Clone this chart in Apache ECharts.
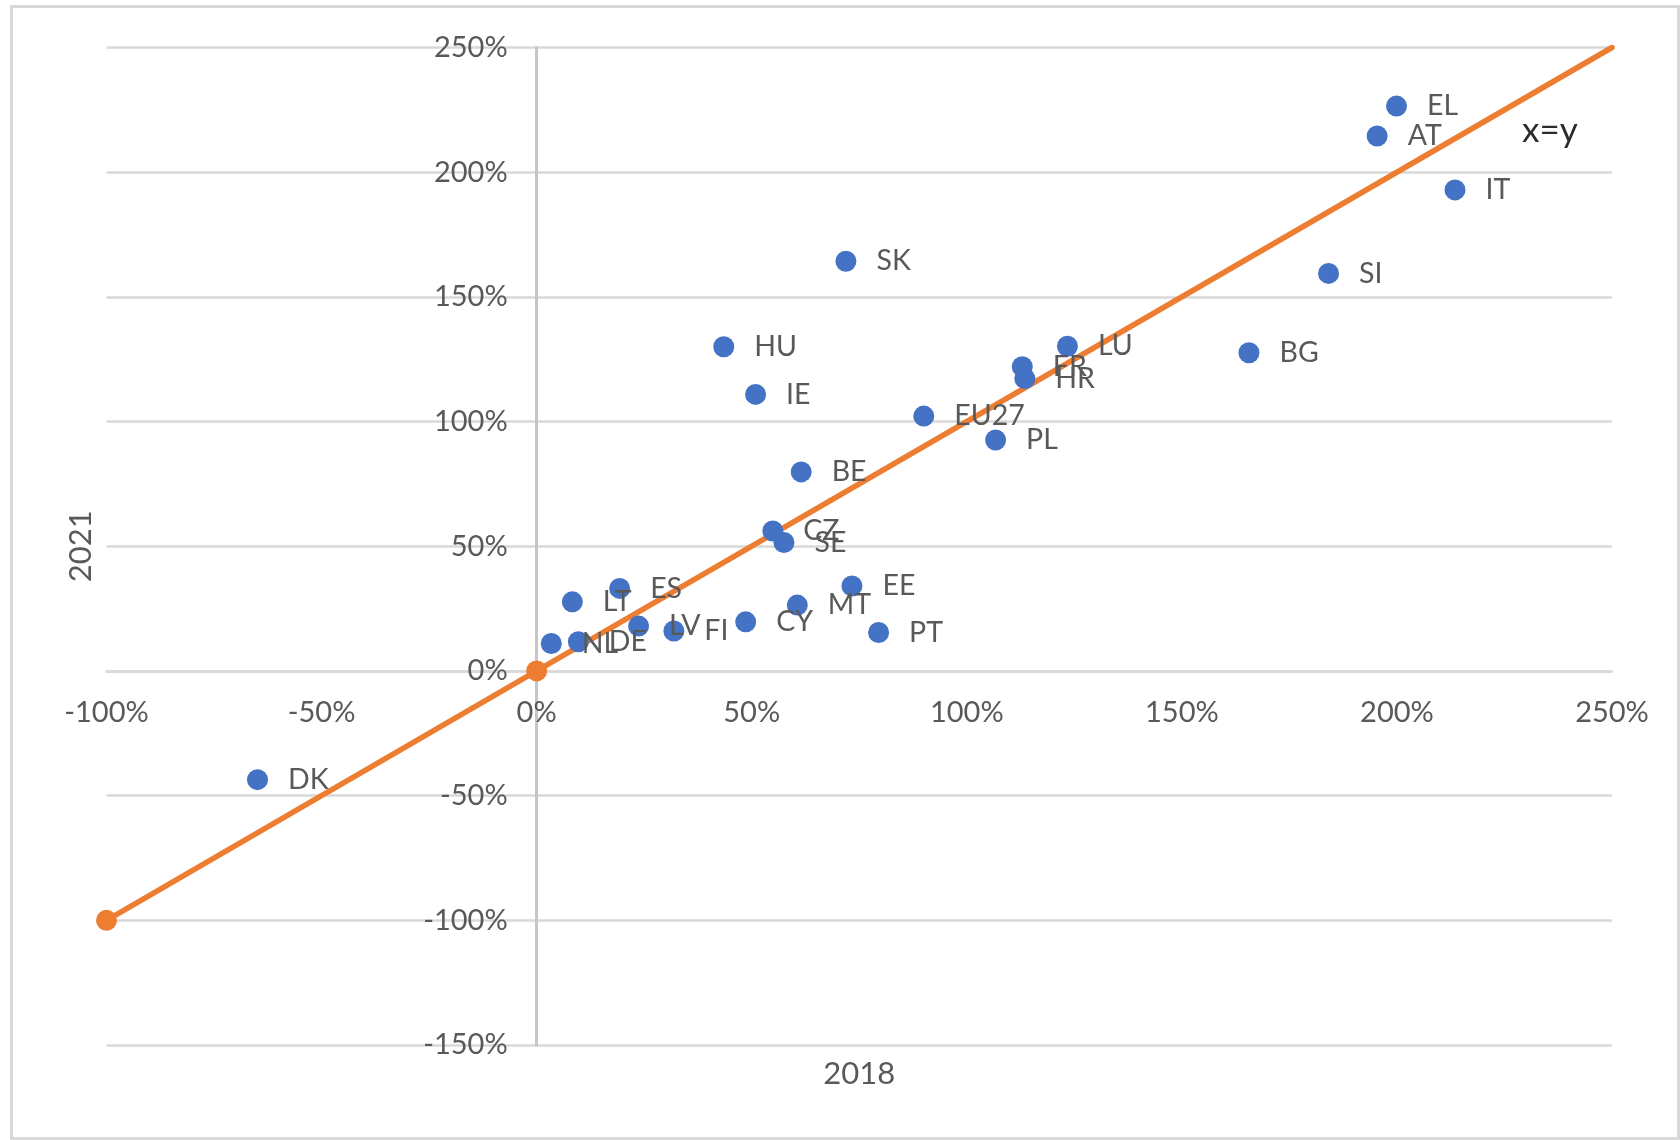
<!DOCTYPE html>
<html>
<head>
<meta charset="utf-8">
<title>2018 vs 2021</title>
<script src="https://cdn.jsdelivr.net/npm/echarts@6/dist/echarts.min.js"></script>
<style>
  html, body { margin: 0; padding: 0; background: #ffffff; }
  #chart { width: 1680px; height: 1140px; }
</style>
</head>
<body>
<div id="chart"></div>
<script>
// Country codes and their values (in %) for 2018 (x) and 2021 (y)
const countries = ['EL', 'AT', 'IT', 'SK', 'SI', 'HU', 'LU', 'BG', 'FR', 'HR', 'IE', 'EU27', 'PL', 'BE',
  'CZ', 'SE', 'EE', 'ES', 'LT', 'MT', 'CY', 'LV', 'FI', 'NL', 'DE', 'PT', 'DK'];
const values2018 = [199.9, 195.4, 213.5, 71.9, 184.1, 43.5, 123.4, 165.6, 112.9, 113.5, 50.9, 90.0, 106.7, 61.5,
  54.9, 57.5, 73.3, 19.3, 8.3, 60.6, 48.6, 23.7, 31.9, 3.4, 9.7, 79.5, -64.9];
const values2021 = [226.5, 214.5, 192.9, 164.3, 159.4, 130.0, 130.2, 127.6, 122.0, 117.2, 110.9, 102.2, 92.6, 79.8,
  56.1, 51.5, 34.1, 33.1, 27.7, 26.4, 19.7, 18.0, 16.0, 11.0, 11.7, 15.4, -43.6];

// Reference diagonal x = y
const diagonalX = [-100, 0, 250];
const diagonalY = [-100, 0, 250];
const diagonalName = 'x=y';

// Axis ticks (%)
const xTicks = [-100, -50, 0, 50, 100, 150, 200, 250];
const yTicks = [-150, -100, -50, 0, 50, 100, 150, 200, 250];
const xAxisTitle = '2018';
const yAxisTitle = '2021';

const FONT = 'Lato, "Noto Sans", sans-serif';
const TEXT_GREY = '#595959';
const GRID_GREY = '#d9d9d9';
const AXIS_GREY = '#c6c6c6';
const BLUE = '#4472c4';
const ORANGE = '#ed7d31';

const GRID = { left: 106.5, right: 68, top: 47.5, bottom: 95 };
const WIDTH = 1680, HEIGHT = 1140;

const scatterData = countries.map((c, i) => ({ name: c, value: [values2018[i], values2021[i]] }));

const diagonalData = diagonalX.map((x, i) => {
  const last = i === diagonalX.length - 1;
  const item = { value: [x, diagonalY[i]] };
  if (last) {
    item.symbolSize = 1;
    item.label = {
      show: true,
      formatter: diagonalName,
      position: 'inside',
      offset: [-62, 83],
      fontFamily: FONT,
      fontSize: 35,
      color: '#2b2b2b'
    };
  }
  return item;
});

const chart = echarts.init(document.getElementById('chart'), null, { renderer: 'canvas' });

chart.setOption({
  animation: false,
  backgroundColor: '#ffffff',
  textStyle: { fontFamily: FONT },
  graphic: [{
    type: 'rect',
    shape: { x: 11.5, y: 6.5, width: 1667, height: 1132 },
    style: { fill: 'none', stroke: GRID_GREY, lineWidth: 3 },
    z: -10
  }],
  grid: {
    left: GRID.left, right: GRID.right, top: GRID.top, bottom: GRID.bottom,
    containLabel: false,
    outerBoundsMode: 'none'
  },
  xAxis: {
    type: 'value',
    position: 'bottom',
    min: xTicks[0],
    max: xTicks[xTicks.length - 1],
    interval: xTicks[1] - xTicks[0],
    name: xAxisTitle,
    nameLocation: 'middle',
    nameGap: 388,
    nameTextStyle: { fontFamily: FONT, fontSize: 31, color: TEXT_GREY },
    axisLine: { onZero: false, lineStyle: { color: GRID_GREY, width: 2.5 } },
    axisTick: { show: false },
    axisLabel: {
      fontFamily: FONT, fontSize: 29, color: TEXT_GREY, margin: 27,
      formatter: v => v + '%', showMinLabel: true, showMaxLabel: true
    },
    splitLine: { show: false }
  },
  yAxis: {
    type: 'value',
    position: 'left',
    min: yTicks[0],
    max: yTicks[yTicks.length - 1],
    interval: yTicks[1] - yTicks[0],
    name: yAxisTitle,
    nameLocation: 'middle',
    nameGap: 440,
    nameTextStyle: { fontFamily: FONT, fontSize: 31, color: TEXT_GREY },
    axisLine: { onZero: false, lineStyle: { color: AXIS_GREY, width: 3 } },
    axisTick: { show: false },
    axisLabel: {
      fontFamily: FONT, fontSize: 29, color: TEXT_GREY, margin: 29,
      formatter: v => v + '%', showMinLabel: true, showMaxLabel: true
    },
    splitLine: { show: true, lineStyle: { color: GRID_GREY, width: 2.5 } }
  },
  series: [
    {
      name: diagonalName,
      type: 'line',
      data: diagonalData,
      symbol: 'circle',
      symbolSize: 21,
      itemStyle: { color: ORANGE, opacity: 1 },
      lineStyle: { color: ORANGE, width: 5.5, cap: 'round' },
      z: 2
    },
    {
      name: 'countries',
      type: 'scatter',
      data: scatterData,
      symbol: 'circle',
      symbolSize: 21,
      itemStyle: { color: BLUE, opacity: 1 },
      label: {
        show: true,
        position: 'right',
        distance: 20,
        offset: [0, 2],
        formatter: p => p.name,
        fontFamily: FONT,
        fontSize: 28.5,
        color: TEXT_GREY
      },
      labelLayout: { hideOverlap: false },
      z: 3
    }
  ]
});

// Both axes cross at the origin: shift each axis from the grid edge to the
// pixel position of zero on the other axis.
const origin = chart.convertToPixel({ gridIndex: 0 }, [0, 0]);
chart.setOption({
  xAxis: { offset: origin[1] - (HEIGHT - GRID.bottom) },
  yAxis: { offset: GRID.left - origin[0] }
});
</script>
</body>
</html>
